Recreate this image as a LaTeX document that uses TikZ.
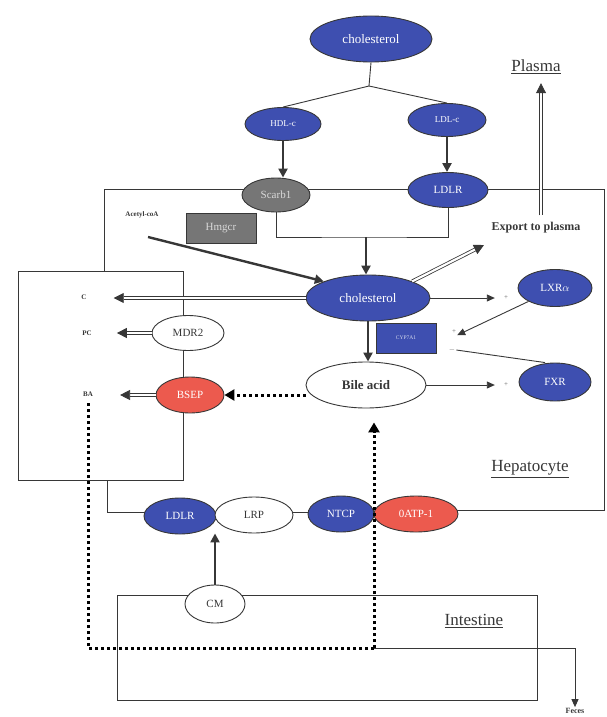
\documentclass[tikz,border=0pt]{standalone}
\usepackage{fontspec}
\setmainfont{Liberation Serif}
\usetikzlibrary{positioning}
\usetikzlibrary{arrows.meta}
\usetikzlibrary{shapes.geometric}
\definecolor{molblue}{RGB}{62,79,176}
\definecolor{molred}{RGB}{236,90,78}
\definecolor{molgray}{RGB}{118,118,118}
\definecolor{linegray}{RGB}{55,55,55}

\begin{document}
\begin{tikzpicture}[x=1pt,y=-1pt,
    oval/.style={ellipse,draw=linegray,line width=0.9pt,inner sep=0pt,font=\fontsize{11}{11}\selectfont},
    bluemol/.style={oval,fill=molblue,text=white},
    redmol/.style={oval,fill=molred,text=white},
    whitemol/.style={oval,fill=white,text=linegray},
    tag/.style={inner sep=1pt,text=linegray,font=\bfseries\fontsize{7}{7}\selectfont},
    sign/.style={inner sep=1pt,text=black!60,font=\fontsize{7}{7}\selectfont},
    area/.style={inner sep=1pt,text=linegray,font=\fontsize{17}{17}\selectfont},
    wire/.style={draw=linegray,line width=0.9pt},
    boldarrow/.style={linegray,line width=2.4pt,-{Triangle[length=9pt,width=9pt]}},
    dblarrow/.style={linegray,double=white,double distance=2.2pt,line width=0.8pt,-{Triangle[length=10pt,width=10pt]}},
    dotline/.style={black,line width=3pt,dash pattern=on 3pt off 3pt},
    dotarrow/.style={dotline,-{Triangle[length=10pt,width=11pt]}},
    thinarrow/.style={linegray,line width=0.9pt,-{Triangle[length=8pt,width=7pt]}}]

    \useasboundingbox (0,0) rectangle (606,717);

    \draw[wire] (104,271) -- (104,189) -- (604,189) -- (604,510) -- (440,510);
    \draw[wire] (107,480) -- (107,512) -- (400,512);
    \draw[wire] (18,271) rectangle (183,480);
    \draw[wire] (117,595) rectangle (537,700);

    \node[bluemol,minimum width=122pt,minimum height=46pt,font=\fontsize{13}{13}\selectfont] (cholA) at (371,39) {cholesterol};
    \coordinate (fork) at (369,86);
    \node[bluemol,minimum width=76pt,minimum height=33pt,font=\fontsize{9}{9}\selectfont] (hdl) at (283,124) {HDL-c};
    \node[bluemol,minimum width=78pt,minimum height=33pt,font=\fontsize{9}{9}\selectfont] (ldl) at (447,120) {LDL-c};
    \node[oval,fill=molgray,text=white!85!black,minimum width=68pt,minimum height=34pt] (scarb) at (276,195) {Scarb1};
    \node[bluemol,minimum width=80pt,minimum height=35pt] (ldlrA) at (448,190) {LDLR};
    \node[draw=linegray,line width=0.9pt,fill=molgray,text=white!85!black,minimum width=70pt,minimum height=30pt,font=\fontsize{11}{11}\selectfont] (hmgcr) at (221,228) {Hmgcr};
    \node[tag] (acetyl) at (142,215) {Acetyl-coA};
    \coordinate (acstart) at (148,237);
    \coordinate (merge) at (366,237);

    \node[bluemol,minimum width=124pt,minimum height=46pt,font=\fontsize{13}{13}\selectfont] (cholB) at (368,298) {cholesterol};
    \node[draw=linegray,line width=0.9pt,fill=molblue,text=white!80!molblue,minimum width=60pt,minimum height=30pt,font=\fontsize{5.5}{5.5}\selectfont] (cyp) at (406,338) {CYP7A1};
    \node[oval,fill=white,text=linegray,minimum width=120pt,minimum height=46pt,font=\bfseries\fontsize{13}{13}\selectfont] (bile) at (366,385) {Bile acid};
    \node[bluemol,minimum width=74pt,minimum height=37pt] (lxr) at (555,288) {LXR$\alpha$};
    \node[bluemol,minimum width=72pt,minimum height=38pt] (fxr) at (555,382) {FXR};
    \node[sign] (plusA) at (506,298) {+};
    \node[sign] (plusB) at (454,332) {+};
    \node[sign] (minusB) at (452,350) {$-$};
    \node[sign] (plusC) at (506,385) {+};
    \node[tag,font=\bfseries\fontsize{12}{12}\selectfont] (export) at (536,228) {Export to plasma};
    \coordinate (exporttip) at (484,245);
    \node[area] (plasma) at (536,67) {\underline{Plasma}};

    \node[whitemol,minimum width=72pt,minimum height=35pt] (mdr) at (188,333) {MDR2};
    \node[redmol,minimum width=68pt,minimum height=36pt] (bsep) at (190,395) {BSEP};
    \node[tag] (cpool) at (84,297) {C};
    \node[tag] (pcpool) at (87,333) {PC};
    \node[tag] (bapool) at (88,394) {BA};
    \node[area] (hepato) at (530,469) {\underline{Hepatocyte}};

    \node[bluemol,minimum width=72pt,minimum height=36pt] (ldlrB) at (180,516) {LDLR};
    \node[whitemol,minimum width=78pt,minimum height=36pt] (lrp) at (254,515) {LRP};
    \node[bluemol,minimum width=66pt,minimum height=36pt] (ntcp) at (341,514) {NTCP};
    \node[redmol,minimum width=84pt,minimum height=36pt] (oatp) at (416,514) {0ATP-1};
    \node[whitemol,minimum width=60pt,minimum height=38pt] (cm) at (215,604) {CM};
    \node[area] (intest) at (474,621) {\underline{Intestine}};
    \coordinate (split) at (374,648);
    \node[tag,font=\bfseries\fontsize{8}{8}\selectfont] (feces) at (575,711) {Feces};

    \draw[wire] (cholA.south) -- (fork) -- (hdl.north);
    \draw[wire] (fork) -- (ldl.north);
    \draw[boldarrow] (hdl.south) -- (hdl.south |- scarb.north);
    \draw[boldarrow] (ldl.south) -- (ldl.south |- ldlrA.north);
    \draw[wire] (scarb.south) |- (merge) -| (ldlrA.south);
    \draw[boldarrow] (merge) -- (merge |- cholB.north);
    \draw[boldarrow] (acstart) -- (cholB.north west);
    \draw[dblarrow] (cholB.north east) -- (exporttip);
    \draw[dblarrow,shorten <=6pt,shorten >=8pt] ([xshift=5pt]export.north) -- ([xshift=5pt]export.north |- plasma.south);

    \draw[dblarrow,shorten >=26pt] (cholB.west) -- (cpool.east |- cholB.west);
    \draw[dblarrow,shorten >=24pt] (mdr.west) -- (pcpool.east |- mdr.west);
    \draw[dblarrow,shorten >=26pt] (bsep.west) -- (bapool.east |- bsep.west);

    \draw[boldarrow] (cholB.south) -- (cholB.south |- bile.north);
    \draw[thinarrow,shorten >=8pt] (cholB.east) -- (plusA.west);
    \draw[thinarrow] (lxr.south west) -- (plusB.south east);
    \draw[wire] (minusB.east) -- ([xshift=-10pt]fxr.north);
    \draw[thinarrow,shorten >=8pt] (bile.east) -- (plusC.west);

    \draw[dotarrow] (bile.west |- bsep.east) -- (bsep.east);
    \draw[dotarrow,shorten >=14pt] (split) -- (split |- bile.south);
    \draw[dotline,shorten >=4pt] (split) -| (bapool.south);
    \draw[thinarrow] (split) -| (feces.north);
    \draw[boldarrow] (cm.north) -- (cm.north |- lrp.south);

\end{tikzpicture}
\end{document}
